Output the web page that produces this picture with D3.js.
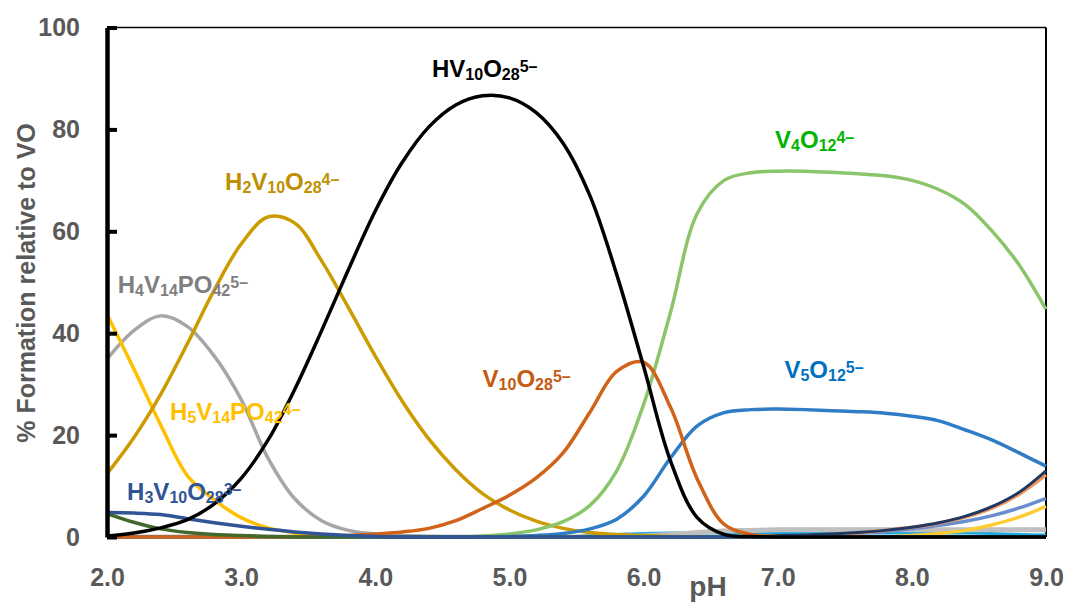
<!DOCTYPE html>
<html>
<head>
<meta charset="utf-8">
<script src="https://cdn.jsdelivr.net/npm/d3@7"></script>
<style>
  html, body { margin: 0; padding: 0; background: #fff; }
  svg { display: block; }
  text { font-family: "Liberation Sans", Arial, sans-serif; font-weight: bold; }
</style>
</head>
<body>
<svg id="chart" width="1066" height="603"></svg>
<script>
// pH grid shared by all species
const pH = [2.0, 2.2, 2.4, 2.6, 2.8, 3.0, 3.2, 3.4, 3.6, 3.8, 4.0, 4.2, 4.4, 4.6, 4.8, 5.0, 5.2, 5.4,
            5.6, 5.8, 6.0, 6.2, 6.4, 6.6, 6.8, 7.0, 7.2, 7.4, 7.6, 7.8, 8.0, 8.2, 8.4, 8.6, 8.8, 9.0];

// % formation of each species along the pH grid
const HV10O28   = [0.2, 0.8, 1.8, 3.4, 6.5, 11.5, 19, 29, 40.5, 52.5, 64, 73.5, 80.5, 84.8, 86.6, 86.2, 83.3, 77.3,
                   67, 51.5, 33.5, 15, 3.8, 0.5, 0.1, 0, 0, 0, 0, 0, 0, 0, 0, 0, 0, 0];
const H2V10O28  = [12.4, 19.5, 28, 38, 48.5, 57.5, 62.8, 61.6, 54.2, 45, 35.5, 26.7, 19.2, 13.2, 8.5, 5.3, 3.1, 1.7,
                   0.9, 0.5, 0.3, 0.1, 0, 0, 0, 0, 0, 0, 0, 0, 0, 0, 0, 0, 0, 0];
const H4V14PO42 = [34.9, 40.5, 43.4, 41.3, 35.5, 27, 15.5, 7.5, 3.2, 1.3, 0.6, 0.3, 0.1, 0, 0, 0, 0, 0,
                   0, 0, 0, 0, 0, 0, 0, 0, 0, 0, 0, 0, 0, 0, 0, 0, 0, 0];
const H5V14PO42 = [43.7, 33, 22, 12, 7.3, 3.8, 1.8, 0.8, 0.3, 0.1, 0, 0, 0, 0, 0, 0, 0, 0,
                   0, 0, 0, 0, 0, 0, 0, 0, 0, 0, 0, 0, 0, 0, 0, 0, 0, 0];
const H3V10O28  = [4.8, 4.7, 4.4, 3.6, 2.8, 2.1, 1.5, 1.0, 0.6, 0.3, 0.1, 0, 0, 0, 0, 0, 0, 0,
                   0, 0, 0, 0, 0, 0, 0, 0, 0, 0, 0, 0, 0, 0, 0, 0, 0, 0];
const H6V10O28  = [4.6, 2.9, 1.6, 0.9, 0.5, 0.3, 0.1, 0, 0, 0, 0, 0, 0, 0, 0, 0, 0, 0,
                   0, 0, 0, 0, 0, 0, 0, 0, 0, 0, 0, 0, 0, 0, 0, 0, 0, 0];
const V10O28    = [0, 0, 0, 0, 0, 0, 0, 0, 0.1, 0.3, 0.6, 1.0, 1.7, 3.2, 5.6, 8.2, 11.6, 16.5,
                   24.5, 32.5, 34.3, 25.5, 11.4, 2.5, 0.5, 0.1, 0, 0, 0, 0, 0, 0, 0, 0, 0, 0];
const V4O12     = [0, 0, 0, 0, 0, 0, 0, 0, 0, 0, 0, 0, 0, 0, 0.2, 0.6, 1.4, 3,
                   6.2, 13, 26, 44, 63.5, 70, 71.5, 71.8, 71.8, 71.6, 71.3, 70.9, 70, 68.2, 65.2, 60, 53.4, 44.7];
const V5O12     = [0, 0, 0, 0, 0, 0, 0, 0, 0, 0, 0, 0, 0, 0, 0, 0.1, 0.3, 0.7,
                   1.6, 3.5, 8, 15.5, 21.8, 24.4, 25, 25.1, 25, 24.8, 24.6, 24.3, 23.7, 22.8, 21, 19, 16.5, 13.9];
const VO4H      = [0, 0, 0, 0, 0, 0, 0, 0, 0, 0, 0, 0, 0, 0, 0, 0, 0, 0,
                   0, 0, 0, 0, 0, 0, 0, 0.3, 0.4, 0.6, 0.9, 1.3, 1.9, 2.8, 4.1, 6, 8.8, 13];
const V2O7H     = [0, 0, 0, 0, 0, 0, 0, 0, 0, 0, 0, 0, 0, 0, 0, 0, 0, 0,
                   0, 0, 0, 0, 0, 0, 0, 0.2, 0.3, 0.5, 0.8, 1.3, 1.9, 2.7, 3.9, 5.7, 8.4, 12.2];
const V2O7      = [0, 0, 0, 0, 0, 0, 0, 0, 0, 0, 0, 0, 0, 0, 0, 0, 0, 0,
                   0, 0, 0, 0, 0, 0, 0, 0.1, 0.2, 0.4, 0.7, 1.1, 1.6, 2.3, 3.1, 4.2, 5.7, 7.6];
const VO4H2     = [0, 0, 0, 0, 0, 0, 0, 0, 0, 0, 0, 0, 0, 0, 0, 0, 0, 0,
                   0, 0, 0, 0, 0, 0, 0, 0, 0, 0, 0, 0, 0.3, 0.7, 1.3, 2.4, 3.9, 6];
const V3O9      = [0, 0, 0, 0, 0, 0, 0, 0, 0, 0, 0, 0, 0, 0, 0, 0, 0, 0,
                   0, 0, 0.2, 0.5, 0.9, 1.2, 1.3, 1.4, 1.4, 1.4, 1.4, 1.4, 1.4, 1.4, 1.4, 1.4, 1.4, 1.4];
const V6O18     = [0, 0, 0, 0, 0, 0, 0, 0, 0, 0, 0, 0, 0, 0, 0, 0, 0, 0,
                   0.3, 0.5, 0.7, 0.8, 0.8, 0.8, 0.8, 0.8, 0.8, 0.8, 0.8, 0.8, 0.8, 0.8, 0.8, 0.7, 0.5, 0.4];

const yTicks = [0, 20, 40, 60, 80, 100];
const xTicks = [2, 3, 4, 5, 6, 7, 8, 9];
const xTitle = "pH";
const yTitle = "% Formation relative to VO";

// series in drawing order (first drawn = bottom)
const series = [
  { values: V6O18,     color: "#1BA8E0", width: 3 },
  { values: V3O9,      color: "#BFBFBF", width: 5 },
  { values: VO4H2,     color: "#FFCD33", width: 3.5 },
  { values: V2O7,      color: "#698ED0", width: 3.5 },
  { values: V2O7H,     color: "#F1975A", width: 3.5 },
  { values: VO4H,      color: "#203864", width: 3 },
  { values: H4V14PO42, color: "#A6A6A6", width: 3.5 },
  { values: H5V14PO42, color: "#FFC000", width: 3.5 },
  { values: H2V10O28,  color: "#CC9B00", width: 3.5 },
  { values: V4O12,     color: "#8BC56A", width: 3.5 },
  { values: V5O12,     color: "#2E7DC6", width: 3.5 },
  { values: V10O28,    color: "#D0621A", width: 3.5 },
  { values: H6V10O28,  color: "#43682B", width: 3.5 },
  { values: H3V10O28,  color: "#2F5597", width: 3.5 },
  { values: HV10O28,   color: "#000000", width: 3.5 }
];

// species labels: "_" marks a subscript run, "^" a superscript run, "|" ends it
const labels = [
  { text: "HV_10|O_28|^5–",     color: "#000000", at: [4.423, 90.3] },
  { text: "H_2|V_10|O_28|^4–",  color: "#BF9000", at: [2.88, 68.1] },
  { text: "H_4|V_14|PO_42|^5–", color: "#7F7F7F", at: [2.08, 47.9] },
  { text: "H_5|V_14|PO_42|^4–", color: "#FFC000", at: [2.47, 23.0] },
  { text: "H_3|V_10|O_28|^3–",  color: "#2F5597", at: [2.15, 7.3] },
  { text: "V_10|O_28|^5–",      color: "#C55A11", at: [4.80, 29.4] },
  { text: "V_4|O_12|^4–",       color: "#00B400", at: [6.98, 76.3] },
  { text: "V_5|O_12|^5–",       color: "#0070C0", at: [7.05, 31.2] }
];

const svg = d3.select("#chart");
const x = d3.scaleLinear().domain([2, 9]).range([107, 1046]);
const y = d3.scaleLinear().domain([0, 100]).range([537, 27.5]);

// thin frame on the top and right
svg.append("line").attr("x1", x(2)).attr("x2", x(9)).attr("y1", y(100)).attr("y2", y(100))
  .attr("stroke", "#000").attr("stroke-width", 1.5);
svg.append("line").attr("x1", x(9)).attr("x2", x(9)).attr("y1", y(100)).attr("y2", y(0))
  .attr("stroke", "#000").attr("stroke-width", 2);

// bottom axis line (under the curves)
svg.append("line").attr("x1", x(2)).attr("x2", x(9)).attr("y1", y(0)).attr("y2", y(0))
  .attr("stroke", "#000").attr("stroke-width", 4);

// curves, clipped to the plot area so the spline never dips under the axis
svg.append("clipPath").attr("id", "plot")
  .append("rect").attr("x", x(2)).attr("y", y(100) - 5).attr("width", x(9) - x(2) + 3).attr("height", y(0) - y(100) + 7);

const line = d3.line()
  .x((d, i) => x(pH[i]))
  .y(d => y(d))
  .curve(d3.curveCatmullRom.alpha(0.5));

svg.append("g").attr("clip-path", "url(#plot)")
  .selectAll("path").data(series).join("path")
  .attr("d", s => line(s.values))
  .attr("fill", "none")
  .attr("stroke", s => s.color)
  .attr("stroke-width", s => s.width)
  .attr("stroke-linejoin", "round");

// y axis with inward ticks
const yAxis = svg.append("g").attr("transform", `translate(${x(2)},0)`)
  .call(d3.axisLeft(y).tickValues(yTicks).tickSizeInner(-10).tickSizeOuter(0).tickPadding(27).tickFormat(d3.format("d")));
yAxis.select(".domain").attr("stroke", "#000").attr("stroke-width", 4.5);
yAxis.selectAll(".tick line").attr("stroke", "#000").attr("stroke-width", 4);
yAxis.selectAll(".tick text").attr("fill", "#595959").attr("font-size", 25)
  .attr("font-family", "Liberation Sans, Arial, sans-serif").attr("font-weight", "bold");

// x axis labels
const xAxis = svg.append("g").attr("transform", `translate(0,${y(0)})`)
  .call(d3.axisBottom(x).tickValues(xTicks).tickSize(0).tickPadding(31).tickFormat(d3.format(".1f")));
xAxis.select(".domain").remove();
xAxis.selectAll(".tick text").attr("fill", "#595959").attr("font-size", 25)
  .attr("font-family", "Liberation Sans, Arial, sans-serif").attr("font-weight", "bold");

// axis titles
svg.append("text").attr("x", 708).attr("y", 596).attr("text-anchor", "middle")
  .attr("fill", "#595959").attr("font-size", 28).text(xTitle);
svg.append("text").attr("transform", "translate(35,283) rotate(-90)").attr("text-anchor", "middle")
  .attr("fill", "#595959").attr("font-size", 25).text(yTitle);

// species labels with sub/superscripts
labels.forEach(l => {
  const bx = x(l.at[0]), by = y(l.at[1]);
  const t = svg.append("text").attr("x", bx).attr("y", by).attr("fill", l.color);
  l.text.split("|").forEach(chunk => {
    // each chunk: normal text, optionally followed by _sub, or a ^sup chunk
    if (chunk.startsWith("^")) {
      t.append("tspan").attr("y", by - 5).attr("font-size", 16).text(chunk.slice(1));
      return;
    }
    const [main, sub] = chunk.split("_");
    if (main) t.append("tspan").attr("y", by).attr("font-size", 24).text(main);
    if (sub) t.append("tspan").attr("y", by + 3).attr("font-size", 16).text(sub);
  });
});
</script>
</body>
</html>
